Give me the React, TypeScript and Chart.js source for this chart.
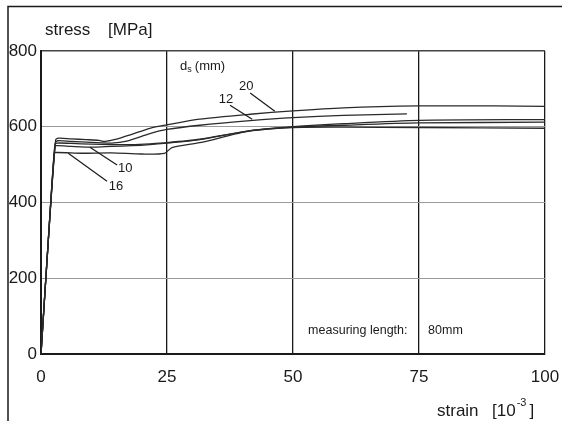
import { useEffect, useRef } from "react";
import { Chart, registerables } from "chart.js";

Chart.register(...registerables);

// Stress-strain curves of reinforcing bars, strain in 10^-3, stress in MPa
const strain20 = [0, 1.5, 2.9, 3.4, 6, 9, 11.5, 12.5, 13.5, 15, 18, 21.6, 25, 31.5, 41.5, 50, 60, 75, 90, 100];
const stress20 = [0, 310, 565, 570, 568, 566, 564, 561, 563, 567, 580, 596, 605, 620, 633, 642, 650, 655, 655, 654];

const strain12 = [0, 1.4, 2.8, 3.3, 6, 10, 14, 17, 21.6, 25, 31.5, 41.5, 50, 60, 72.6];
const stress12 = [0, 290, 555, 563, 561, 559, 557, 562, 582, 593, 604, 616, 624, 630, 634];

const strain10 = [0, 1.4, 2.7, 3.1, 6, 10, 14, 18, 21.6, 25, 31.5, 41.5, 50, 60, 75, 100];
const stress10 = [0, 290, 546, 550, 548, 546, 548, 550, 553, 557, 566, 590, 600, 608, 617, 619];

const strain16 = [0, 1.3, 2.6, 2.9, 8, 14, 20, 24.5, 26, 31.5, 41.5, 50, 60, 75, 100];
const stress16 = [0, 270, 528, 532, 530, 531, 528, 530, 545, 558, 589, 599, 604, 610, 612];

const strainX = [0, 1.4, 2.8, 3.2, 6, 10, 14, 18, 21.6, 25, 31.5, 41.5, 50, 60, 75, 100];
const stressX = [0, 290, 553, 557, 556, 554, 553, 553, 555, 558, 567, 589, 598, 599, 598, 596];

const xTicks = [0, 25, 50, 75, 100];
const yTicks = [0, 200, 400, 600, 800];

// Bar diameters d_s [mm] with label anchor and leader line (data units)
const curveNames = ["20", "12", "10", "16"];
const nameStrain = [40.7, 36.7, 16.7, 14.9];
const nameStress = [707, 673, 491, 443];
const leaderFromStrain = [41.5, 37.5, 9.7, 5.4];
const leaderFromStress = [689, 657, 546, 530];
const leaderToStrain = [46.4, 41.9, 15.1, 13.1];
const leaderToStress = [641, 620, 499, 456];

const FONT = "'Liberation Sans', Arial, sans-serif";
const INK = "#1a1a1a";

const toPoints = (xs: number[], ys: number[]) => xs.map((v, i) => ({ x: v, y: ys[i] }));

const annotations = {
  id: "annotations",
  afterDraw(chart: any) {
    const { ctx } = chart;
    const x = chart.scales.x;
    const y = chart.scales.y;
    const px = (v: number) => x.getPixelForValue(v);
    const py = (v: number) => y.getPixelForValue(v);
    ctx.save();

    // outer frame (left and top edges)
    ctx.strokeStyle = INK;
    ctx.lineWidth = 1.5;
    ctx.beginPath();
    ctx.moveTo(8, 421);
    ctx.lineTo(8, 6.5);
    ctx.lineTo(562, 6.5);
    ctx.stroke();

    // leader lines and diameter labels
    ctx.lineWidth = 1.2;
    ctx.strokeStyle = INK;
    ctx.fillStyle = INK;
    ctx.font = `13px ${FONT}`;
    ctx.textAlign = "center";
    ctx.textBaseline = "middle";
    curveNames.forEach((name, i) => {
      ctx.beginPath();
      ctx.moveTo(px(leaderFromStrain[i]), py(leaderFromStress[i]));
      ctx.lineTo(px(leaderToStrain[i]), py(leaderToStress[i]));
      ctx.stroke();
      ctx.fillText(name, px(nameStrain[i]), py(nameStress[i]));
    });

    // d_s (mm)
    ctx.textAlign = "left";
    let tx = px(27.6);
    const ty = py(760);
    ctx.font = `13px ${FONT}`;
    ctx.fillText("d", tx, ty);
    tx += ctx.measureText("d").width;
    ctx.font = `9px ${FONT}`;
    ctx.fillText("s", tx, ty + 3);
    tx += ctx.measureText("s").width + 3;
    ctx.font = `13px ${FONT}`;
    ctx.fillText("(mm)", tx, ty);

    // measuring length note
    ctx.font = `12.5px ${FONT}`;
    ctx.fillText("measuring length:", px(53), py(63));
    ctx.fillText("80mm", px(76.8), py(63));

    // y-axis title
    ctx.font = `17px ${FONT}`;
    ctx.textBaseline = "alphabetic";
    ctx.fillText("stress", 45, 35);
    ctx.fillText("[MPa]", 108, 35);

    // x-axis title
    let sx = 437;
    const sy = 416;
    ctx.fillText("strain", sx, sy);
    sx = 492;
    ctx.fillText("[10", sx, sy);
    sx += ctx.measureText("[10").width + 1;
    ctx.font = `11px ${FONT}`;
    ctx.fillText("-3", sx, sy - 10);
    sx += ctx.measureText("-3").width + 3;
    ctx.font = `17px ${FONT}`;
    ctx.fillText("]", sx, sy);

    ctx.restore();
  },
};

export default function App() {
  const canvasRef = useRef<HTMLCanvasElement | null>(null);

  useEffect(() => {
    const canvas = canvasRef.current;
    if (!canvas) return;
    const series = [
      toPoints(strain20, stress20),
      toPoints(strain12, stress12),
      toPoints(strain10, stress10),
      toPoints(strain16, stress16),
      toPoints(strainX, stressX),
    ];
    const chart = new Chart(canvas, {
      type: "line",
      data: {
        datasets: series.map((pts, i) => ({
          label: i < curveNames.length ? curveNames[i] : "",
          data: pts,
          borderColor: "#2a2a2a",
          borderWidth: 1.3,
          pointRadius: 0,
          tension: 0.25,
          fill: false,
        })),
      },
      options: {
        responsive: false,
        animation: false,
        events: [],
        layout: { padding: { top: 51, right: 17, left: 0, bottom: 0 } },
        plugins: { legend: { display: false }, tooltip: { enabled: false } },
        scales: {
          x: {
            type: "linear",
            min: 0,
            max: 100,
            afterFit: (s: any) => {
              s.height = 67;
              s.paddingLeft = 0;
              s.paddingRight = 0;
            },
            afterBuildTicks: (s: any) => {
              s.ticks = xTicks.map((v) => ({ value: v }));
            },
            ticks: {
              padding: 13,
              color: INK,
              font: { family: FONT, size: 17 },
              maxRotation: 0,
            },
            grid: {
              color: INK,
              lineWidth: 1.3,
              drawTicks: false,
            },
            border: { display: true, color: INK, width: 2 },
          },
          y: {
            type: "linear",
            min: 0,
            max: 800,
            afterFit: (s: any) => {
              s.width = 41;
              s.paddingTop = 0;
              s.paddingBottom = 0;
            },
            afterBuildTicks: (s: any) => {
              s.ticks = yTicks.map((v) => ({ value: v }));
            },
            ticks: {
              padding: 4,
              color: INK,
              font: { family: FONT, size: 17 },
            },
            grid: {
              color: (c: any) => (c.tick && c.tick.value === 800 ? "#444" : "#9a9a9a"),
              lineWidth: (c: any) => (c.tick && c.tick.value === 800 ? 1.5 : 1),
              drawTicks: false,
            },
            border: { display: true, color: INK, width: 2 },
          },
        },
      },
      plugins: [annotations],
    });
    return () => chart.destroy();
  }, []);

  return (
    <div style={{ position: "fixed", left: 0, top: 0, width: 562, height: 421, background: "#fff" }}>
      <canvas ref={canvasRef} width={562} height={421} />
    </div>
  );
}
